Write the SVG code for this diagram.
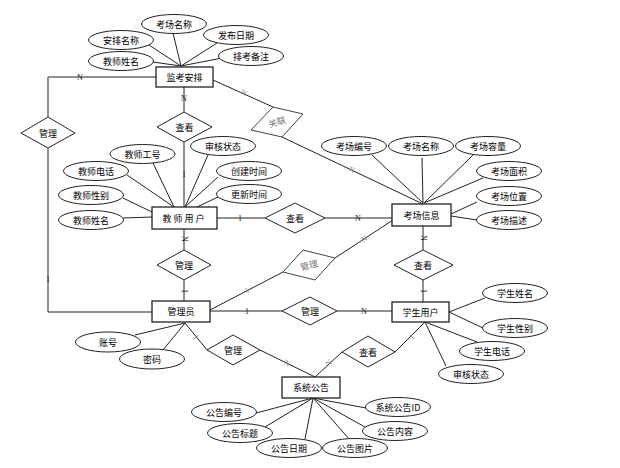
<svg xmlns="http://www.w3.org/2000/svg" width="620" height="468" viewBox="0 0 620 468">
<style>
.bg{fill:#fff}
.ln{stroke:#222;stroke-width:1;fill:none}
.gl{stroke:#555;stroke-width:1;fill:none}
.vl{stroke:#777;stroke-width:1.6;fill:none}
.ent{fill:#fff;stroke:#222;stroke-width:1.3}
.att{fill:#fff;stroke:#222;stroke-width:1}
.rel{fill:#fff;stroke:#222;stroke-width:1}
.relg{fill:#fff;stroke:#444;stroke-width:1}
.t{font-family:"Noto Sans CJK SC","Liberation Sans",sans-serif;font-size:9px;fill:#000;text-anchor:middle;dominant-baseline:central}
.tg{font-family:"Noto Sans CJK SC","Liberation Sans",sans-serif;font-size:9px;fill:#777;text-anchor:middle;dominant-baseline:central}
.c{font-family:"Liberation Serif",serif;font-size:8px;fill:#222;text-anchor:middle;dominant-baseline:central}
.cg{font-family:"Liberation Serif",serif;font-size:8px;fill:#888;text-anchor:middle;dominant-baseline:central}
</style>
<rect class="bg" x="0" y="0" width="620" height="468"/>
<g id="connectors">
  <!-- 监考安排 attributes -->
  <line class="ln" x1="173" y1="33" x2="181" y2="66"/>
  <line class="ln" x1="149" y1="45" x2="181" y2="66"/>
  <line class="ln" x1="217" y1="43" x2="181" y2="66"/>
  <line class="ln" x1="153" y1="62" x2="181" y2="66"/>
  <line class="ln" x1="222" y1="58" x2="181" y2="66"/>
  <!-- 监考安排 - 管理 - 管理员 -->
  <polyline class="ln" points="156,77 48,77"/>
  <line class="vl" x1="48" y1="77" x2="48" y2="117"/>
  <line class="vl" x1="48" y1="148" x2="48" y2="312"/>
  <line class="ln" x1="48" y1="312" x2="152" y2="312"/>
  <!-- 监考安排 - 查看 - 教师用户 -->
  <line class="ln" x1="184" y1="87" x2="184" y2="112"/>
  <line class="ln" x1="184" y1="142" x2="184" y2="207"/>
  <!-- 监考安排 - 关联 - 考场信息 -->
  <line class="ln" x1="213" y1="80" x2="273" y2="107"/>
  <line class="ln" x1="282" y1="137" x2="423" y2="204"/>
  <!-- 教师用户 attributes -->
  <line class="ln" x1="153" y1="163" x2="174" y2="207"/>
  <line class="ln" x1="208" y1="155" x2="185" y2="207"/>
  <line class="ln" x1="127" y1="175" x2="174" y2="207"/>
  <line class="ln" x1="218" y1="177" x2="185" y2="207"/>
  <line class="ln" x1="123" y1="198" x2="152" y2="212"/>
  <line class="ln" x1="218" y1="197" x2="197" y2="207"/>
  <line class="ln" x1="123" y1="218" x2="152" y2="217"/>
  <!-- 教师用户 - 查看 - 考场信息 -->
  <line class="ln" x1="217" y1="218" x2="265" y2="218"/>
  <line class="ln" x1="325" y1="218" x2="392" y2="218"/>
  <!-- 教师用户 - 管理 - 管理员 -->
  <line class="ln" x1="184" y1="229" x2="184" y2="250"/>
  <line class="ln" x1="184" y1="280" x2="184" y2="301"/>
  <!-- 管理员 - 管理 - 考场信息 -->
  <line class="ln" x1="210" y1="310" x2="283" y2="272"/>
  <line class="ln" x1="335" y1="258" x2="393" y2="220"/>
  <!-- 管理员 - 管理 - 学生用户 -->
  <line class="ln" x1="210" y1="311" x2="282" y2="311"/>
  <line class="ln" x1="337" y1="311" x2="392" y2="311"/>
  <!-- 考场信息 attributes -->
  <line class="ln" x1="372" y1="155" x2="423" y2="203"/>
  <line class="ln" x1="422" y1="158" x2="423" y2="203"/>
  <line class="ln" x1="473" y1="155" x2="424" y2="203"/>
  <line class="ln" x1="483" y1="178" x2="424" y2="203"/>
  <line class="ln" x1="477" y1="202" x2="451" y2="214"/>
  <line class="ln" x1="477" y1="220" x2="451" y2="216"/>
  <!-- 考场信息 - 查看 - 学生用户 -->
  <line class="ln" x1="423" y1="226" x2="423" y2="250"/>
  <line class="ln" x1="423" y1="280" x2="423" y2="302"/>
  <!-- 学生用户 attributes -->
  <line class="ln" x1="485" y1="298" x2="449" y2="312"/>
  <line class="ln" x1="483" y1="328" x2="449" y2="312"/>
  <line class="ln" x1="477" y1="342" x2="425" y2="322"/>
  <line class="ln" x1="446" y1="366" x2="425" y2="322"/>
  <!-- 管理员 attributes -->
  <line class="ln" x1="135" y1="335" x2="185" y2="323"/>
  <line class="ln" x1="163" y1="350" x2="185" y2="323"/>
  <!-- 管理员 - 管理 - 系统公告 -->
  <line class="ln" x1="185" y1="323" x2="207" y2="350"/>
  <line class="ln" x1="260" y1="350" x2="315" y2="377"/>
  <!-- 学生用户 - 查看 - 系统公告 -->
  <line class="ln" x1="425" y1="322" x2="395" y2="352"/>
  <line class="ln" x1="342" y1="352" x2="315" y2="377"/>
  <!-- 系统公告 attributes -->
  <line class="ln" x1="256" y1="413" x2="313" y2="398"/>
  <line class="ln" x1="265" y1="427" x2="313" y2="398"/>
  <line class="ln" x1="305" y1="439" x2="313" y2="398"/>
  <line class="ln" x1="350" y1="440" x2="313" y2="398"/>
  <line class="ln" x1="365" y1="427" x2="313" y2="398"/>
  <line class="ln" x1="366" y1="408" x2="313" y2="398"/>
  <!-- cardinality labels -->
  <text class="c" x="80" y="77">N</text>
  <text class="c" x="48" y="279">1</text>
  <text class="c" x="184" y="98">N</text>
  <text class="c" x="184" y="174">1</text>
  <text class="cg" x="244" y="93" transform="rotate(24 244 93)">N</text>
  <text class="cg" x="352" y="170" transform="rotate(25 352 170)">N</text>
  <text class="c" x="240" y="218">1</text>
  <text class="c" x="358" y="218">N</text>
  <text class="c" x="184" y="239" transform="rotate(90 184 239)">N</text>
  <text class="c" x="184" y="291" transform="rotate(90 184 291)">1</text>
  <text class="cg" x="247" y="290" transform="rotate(-27 247 290)">1</text>
  <text class="cg" x="364" y="239" transform="rotate(-33 364 239)">N</text>
  <text class="c" x="247" y="311">1</text>
  <text class="c" x="364" y="311">N</text>
  <text class="c" x="423" y="238" transform="rotate(90 423 238)">N</text>
  <text class="c" x="423" y="291" transform="rotate(90 423 291)">1</text>
  <text class="cg" x="196" y="337" transform="rotate(52 196 337)">1</text>
  <text class="cg" x="287" y="363" transform="rotate(26 287 363)">N</text>
  <text class="cg" x="329" y="363" transform="rotate(-43 329 363)">N</text>
  <text class="cg" x="412" y="337" transform="rotate(-45 412 337)">1</text>
</g>
<!-- Entities -->
<g id="e-jiankao"><rect class="ent" x="156" y="67" width="57" height="20"/><text class="t" x="184.5" y="77">监考安排</text></g>
<g id="e-jiaoshi"><rect class="ent" x="152" y="207" width="65" height="22"/><text class="t" x="184.5" y="218" style="letter-spacing:2px">教师用户</text></g>
<g id="e-kaochang"><rect class="ent" x="392" y="204" width="59" height="22"/><text class="t" x="421.5" y="215">考场信息</text></g>
<g id="e-guanliyuan"><rect class="ent" x="152" y="301" width="58" height="21"/><text class="t" x="181" y="311.5">管理员</text></g>
<g id="e-xuesheng"><rect class="ent" x="392" y="302" width="57" height="20"/><text class="t" x="420.5" y="312">学生用户</text></g>
<g id="e-gonggao"><rect class="ent" x="282" y="377" width="58" height="21"/><text class="t" x="311" y="387.5">系统公告</text></g>
<!-- Relationships -->
<g id="r-guanli-left"><polygon class="rel" points="21,133 48,117 75,133 48,148"/><text class="t" x="48" y="133">管理</text></g>
<g id="r-chakan-top"><polygon class="rel" points="157,127 184,112 212,127 184,142"/><text class="t" x="184.5" y="127">查看</text></g>
<g id="r-guanlian"><polygon class="relg" points="251,130 273,107 303,114 282,137"/><text class="tg" x="277" y="122" transform="rotate(-17 277 122)">关联</text></g>
<g id="r-chakan-mid"><polygon class="rel" points="265,218 295,203 325,218 295,233"/><text class="t" x="295" y="218">查看</text></g>
<g id="r-guanli-mid"><polygon class="rel" points="157,265 184,250 211,265 184,280"/><text class="t" x="184" y="265">管理</text></g>
<g id="r-guanli-grey"><polygon class="relg" points="283,272 303,250 335,258 315,280"/><text class="tg" x="309" y="265" transform="rotate(-15 309 265)">管理</text></g>
<g id="r-guanli-right"><polygon class="rel" points="282,311 310,297 337,311 310,325"/><text class="t" x="310" y="311">管理</text></g>
<g id="r-chakan-right"><polygon class="rel" points="394,265 423,250 453,265 423,280"/><text class="t" x="423" y="265">查看</text></g>
<g id="r-guanli-bottom"><polygon class="rel" points="207,350 233,335 260,350 233,365"/><text class="t" x="233" y="350">管理</text></g>
<g id="r-chakan-bottom"><polygon class="rel" points="342,352 368,336 395,352 368,367"/><text class="t" x="368" y="352">查看</text></g>
<!-- Attributes -->
<g id="a-kcmc1"><ellipse class="att" cx="174" cy="24" rx="32.5" ry="9.5"/><text class="t" x="174" y="24">考场名称</text></g>
<g id="a-apmc"><ellipse class="att" cx="121" cy="40" rx="32.5" ry="9.5"/><text class="t" x="121" y="40">安排名称</text></g>
<g id="a-fbrq"><ellipse class="att" cx="236" cy="35" rx="32.5" ry="9.5"/><text class="t" x="236" y="35">发布日期</text></g>
<g id="a-jsxm1"><ellipse class="att" cx="121" cy="61" rx="32.5" ry="9.5"/><text class="t" x="121" y="61">教师姓名</text></g>
<g id="a-pkbz"><ellipse class="att" cx="251" cy="56" rx="32.5" ry="9.5"/><text class="t" x="251" y="56">排考备注</text></g>
<g id="a-jsgh"><ellipse class="att" cx="142.5" cy="154" rx="32.5" ry="9.5"/><text class="t" x="142.5" y="154">教师工号</text></g>
<g id="a-shzt1"><ellipse class="att" cx="223" cy="146" rx="32.5" ry="9.5"/><text class="t" x="223" y="146">审核状态</text></g>
<g id="a-jsdh"><ellipse class="att" cx="96" cy="171" rx="32.5" ry="9.5"/><text class="t" x="96" y="171">教师电话</text></g>
<g id="a-cjsj"><ellipse class="att" cx="249" cy="171" rx="32.5" ry="9.5"/><text class="t" x="249" y="171">创建时间</text></g>
<g id="a-jsxb"><ellipse class="att" cx="91" cy="195" rx="32.5" ry="9.5"/><text class="t" x="91" y="195">教师性别</text></g>
<g id="a-gxsj"><ellipse class="att" cx="249" cy="194" rx="32.5" ry="9.5"/><text class="t" x="249" y="194">更新时间</text></g>
<g id="a-jsxm2"><ellipse class="att" cx="91" cy="220" rx="32.5" ry="9.5"/><text class="t" x="91" y="220">教师姓名</text></g>
<g id="a-kcbh"><ellipse class="att" cx="354" cy="146" rx="32.5" ry="9.5"/><text class="t" x="354" y="146">考场编号</text></g>
<g id="a-kcmc2"><ellipse class="att" cx="421" cy="146" rx="32.5" ry="9.5"/><text class="t" x="421" y="146">考场名称</text></g>
<g id="a-kcrl"><ellipse class="att" cx="488" cy="146" rx="32.5" ry="9.5"/><text class="t" x="488" y="146">考场容量</text></g>
<g id="a-kcmj"><ellipse class="att" cx="509" cy="171" rx="32.5" ry="9.5"/><text class="t" x="509" y="171">考场面积</text></g>
<g id="a-kcwz"><ellipse class="att" cx="509" cy="196" rx="32.5" ry="9.5"/><text class="t" x="509" y="196">考场位置</text></g>
<g id="a-kcms"><ellipse class="att" cx="509" cy="220" rx="32.5" ry="9.5"/><text class="t" x="509" y="220">考场描述</text></g>
<g id="a-xsxm"><ellipse class="att" cx="515" cy="293" rx="32.5" ry="9.5"/><text class="t" x="515" y="293">学生姓名</text></g>
<g id="a-xsxb"><ellipse class="att" cx="515" cy="328" rx="32.5" ry="9.5"/><text class="t" x="515" y="328">学生性别</text></g>
<g id="a-xsdh"><ellipse class="att" cx="492" cy="351" rx="32.5" ry="9.5"/><text class="t" x="492" y="351">学生电话</text></g>
<g id="a-shzt2"><ellipse class="att" cx="471" cy="374" rx="32.5" ry="9.5"/><text class="t" x="471" y="374">审核状态</text></g>
<g id="a-zh"><ellipse class="att" cx="108" cy="342" rx="32.5" ry="10"/><text class="t" x="108" y="342">账号</text></g>
<g id="a-mm"><ellipse class="att" cx="152" cy="359" rx="32.5" ry="10"/><text class="t" x="152" y="359">密码</text></g>
<g id="a-ggbh"><ellipse class="att" cx="224" cy="412" rx="32.5" ry="9.5"/><text class="t" x="224" y="412">公告编号</text></g>
<g id="a-ggbt"><ellipse class="att" cx="240" cy="433" rx="32.5" ry="9.5"/><text class="t" x="240" y="433">公告标题</text></g>
<g id="a-ggrq"><ellipse class="att" cx="289" cy="448" rx="32.5" ry="9.5"/><text class="t" x="289" y="448">公告日期</text></g>
<g id="a-ggtp"><ellipse class="att" cx="355" cy="448" rx="32.5" ry="9.5"/><text class="t" x="355" y="448">公告图片</text></g>
<g id="a-ggnr"><ellipse class="att" cx="395" cy="431" rx="32.5" ry="9.5"/><text class="t" x="395" y="431">公告内容</text></g>
<g id="a-xtggid"><ellipse class="att" cx="398" cy="407" rx="32.5" ry="9.5"/><text class="t" x="398" y="407">系统公告ID</text></g>
</svg>
